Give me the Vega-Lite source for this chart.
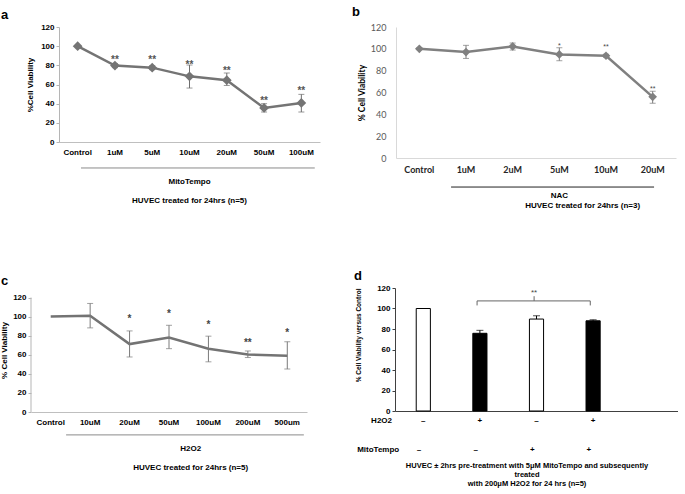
{
  "$schema": "https://vega.github.io/schema/vega-lite/v6.json",
  "background": "white",
  "padding": {"left": 0, "top": 5, "right": 0, "bottom": 0},
  "autosize": {"type": "pad"},
  "config": {
    "view": {"stroke": null},
    "font": "Liberation Sans",
    "axis": {"grid": false, "labelOverlap": false, "labelFont": "Liberation Sans", "labelFontWeight": "bold", "labelFontSize": 8, "labelColor": "#000000", "titleFont": "Liberation Sans", "titleFontWeight": "bold", "titleFontSize": 8, "titleColor": "#000000", "domainColor": "#b5b5b5", "tickColor": "#b5b5b5"},
    "title": {"anchor": "start", "frame": "group", "fontSize": 13, "fontWeight": "bold", "font": "Liberation Sans", "color": "#000000", "baseline": "alphabetic"}
  },
  "bounds": "full",
  "spacing": 59,
  "vconcat": [
    {
      "bounds": "flush",
      "spacing": 76,
      "hconcat": [
        {
          "width": 289, "height": 115,
          "title": {"text": "a", "dx": -30, "offset": 1},
          "data": {"values": [
            {"dose": "Control", "mean": 100, "lo": null, "hi": null, "star": "", "starY": null},
            {"dose": "1uM", "mean": 79.7, "lo": 77.6, "hi": 81.7, "star": "**", "starY": 88.7},
            {"dose": "5uM", "mean": 77.6, "lo": 75.5, "hi": 79.7, "star": "**", "starY": 88.7},
            {"dose": "10uM", "mean": 68.5, "lo": 56.3, "hi": 80.3, "star": "**", "starY": 83.5},
            {"dose": "20uM", "mean": 64.5, "lo": 59, "hi": 72, "star": "**", "starY": 77.6},
            {"dose": "50uM", "mean": 35.5, "lo": 31.3, "hi": 40, "star": "**", "starY": 45.9},
            {"dose": "100uM", "mean": 40.7, "lo": 31.3, "hi": 49.7, "star": "**", "starY": 56.7}
          ]},
          "layer": [
            {"mark": {"type": "line", "color": "#747474", "strokeWidth": 2.5},
             "encoding": {
               "x": {"field": "dose", "type": "nominal", "title": null, "scale": {"type": "band", "domain": ["Control", "1uM", "5uM", "10uM", "20uM", "50uM", "100uM"], "range": [28, 289], "paddingInner": 0, "paddingOuter": 0}, "axis": {"ticks": false, "labelAngle": 0, "labelPadding": 6, "domainColor": "#bfbfbf"}},
               "y": {"field": "mean", "type": "quantitative", "title": "%Cell Viability", "scale": {"domain": [0, 120]}, "axis": {"values": [0, 20, 40, 60, 80, 100, 120], "tickCount": 10, "offset": -28, "tickSize": 3, "labelPadding": 2, "titlePadding": 6}}
             }},
            {"mark": {"type": "rule", "color": "#6e6e6e", "strokeWidth": 1},
             "encoding": {"x": {"field": "dose", "type": "nominal", "title": null}, "y": {"field": "lo", "type": "quantitative", "title": "%Cell Viability"}, "y2": {"field": "hi"}}},
            {"mark": {"type": "tick", "color": "#6e6e6e", "size": 6, "thickness": 1},
             "encoding": {"x": {"field": "dose", "type": "nominal", "title": null}, "y": {"field": "lo", "type": "quantitative", "title": "%Cell Viability"}}},
            {"mark": {"type": "tick", "color": "#6e6e6e", "size": 6, "thickness": 1},
             "encoding": {"x": {"field": "dose", "type": "nominal", "title": null}, "y": {"field": "hi", "type": "quantitative", "title": "%Cell Viability"}}},
            {"mark": {"type": "point", "shape": "diamond", "filled": true, "size": 95, "color": "#747474", "opacity": 1},
             "encoding": {"x": {"field": "dose", "type": "nominal", "title": null}, "y": {"field": "mean", "type": "quantitative", "title": "%Cell Viability"}}},
            {"mark": {"type": "text", "fontSize": 10, "fontWeight": "bold", "color": "#555555", "baseline": "middle", "dy": 3},
             "encoding": {"x": {"field": "dose", "type": "nominal", "title": null}, "y": {"field": "starY", "type": "quantitative", "title": "%Cell Viability"}, "text": {"field": "star"}}},
            {"data": {"values": [{"dose": "Control", "dose2": "100uM", "level": -27.1}]},
             "mark": {"type": "rule", "color": "#8a8a8a", "strokeWidth": 1},
             "encoding": {"x": {"field": "dose", "type": "nominal", "title": null, "bandPosition": 0.59}, "x2": {"field": "dose2", "bandPosition": 0.86}, "y": {"field": "level", "type": "quantitative", "title": "%Cell Viability"}}},
            {"data": {"values": [{"dose": "10uM", "level": -41.7, "label": "MitoTempo"}, {"dose": "10uM", "level": -61.6, "label": "HUVEC treated for 24hrs (n=5)"}]},
             "mark": {"type": "text", "fontSize": 8, "fontWeight": "bold", "baseline": "middle", "color": "#000000"},
             "encoding": {"x": {"field": "dose", "type": "nominal", "title": null}, "y": {"field": "level", "type": "quantitative", "title": "%Cell Viability"}, "text": {"field": "label"}}}
          ]
        },
        {
          "width": 280, "height": 131,
          "title": {"text": "b", "dx": -44, "offset": 4.5},
          "data": {"values": [
            {"dose": "Control", "mean": 100, "lo": 99.3, "hi": 100.7, "star": "", "starY": null},
            {"dose": "1uM", "mean": 97, "lo": 91.2, "hi": 103.2, "star": "", "starY": null},
            {"dose": "2uM", "mean": 102.2, "lo": 98.9, "hi": 105.3, "star": "", "starY": null},
            {"dose": "5uM", "mean": 94.9, "lo": 89.1, "hi": 101, "star": "*", "starY": 104.7},
            {"dose": "10uM", "mean": 93.7, "lo": 92.4, "hi": 95, "star": "**", "starY": 103.2},
            {"dose": "20uM", "mean": 56, "lo": 50.2, "hi": 61.2, "star": "**", "starY": 64.9}
          ]},
          "layer": [
            {"mark": {"type": "line", "color": "#808080", "strokeWidth": 2.5},
             "encoding": {
               "x": {"field": "dose", "type": "nominal", "title": null, "scale": {"type": "band", "domain": ["Control", "1uM", "2uM", "5uM", "10uM", "20uM"], "paddingInner": 0, "paddingOuter": 0}, "axis": {"ticks": false, "labelAngle": 0, "labelPadding": 7, "labelFont": "Lato", "labelFontSize": 9, "labelColor": "#262626", "domainColor": "#d9d9d9"}},
               "y": {"field": "mean", "type": "quantitative", "title": "% Cell Viability", "scale": {"domain": [0, 120]}, "axis": {"values": [0, 20, 40, 60, 80, 100, 120], "tickCount": 10, "ticks": false, "labelPadding": 10, "labelFont": "Lato", "labelFontWeight": "normal", "labelFontSize": 9, "labelColor": "#595959", "domainColor": "#d9d9d9", "titleFont": "Lato", "titleFontSize": 8.5, "titlePadding": 4}}
             }},
            {"mark": {"type": "rule", "color": "#7a7a7a", "strokeWidth": 1},
             "encoding": {"x": {"field": "dose", "type": "nominal", "title": null}, "y": {"field": "lo", "type": "quantitative", "title": "% Cell Viability"}, "y2": {"field": "hi"}}},
            {"mark": {"type": "tick", "color": "#7a7a7a", "size": 6, "thickness": 1},
             "encoding": {"x": {"field": "dose", "type": "nominal", "title": null}, "y": {"field": "lo", "type": "quantitative", "title": "% Cell Viability"}}},
            {"mark": {"type": "tick", "color": "#7a7a7a", "size": 6, "thickness": 1},
             "encoding": {"x": {"field": "dose", "type": "nominal", "title": null}, "y": {"field": "hi", "type": "quantitative", "title": "% Cell Viability"}}},
            {"mark": {"type": "point", "shape": "diamond", "filled": true, "size": 75, "color": "#808080", "opacity": 1},
             "encoding": {"x": {"field": "dose", "type": "nominal", "title": null}, "y": {"field": "mean", "type": "quantitative", "title": "% Cell Viability"}}},
            {"mark": {"type": "text", "fontSize": 7, "color": "#444444", "baseline": "middle", "dy": 2},
             "encoding": {"x": {"field": "dose", "type": "nominal", "title": null}, "y": {"field": "starY", "type": "quantitative", "title": "% Cell Viability"}, "text": {"field": "star"}}},
            {"data": {"values": [{"dose": "1uM", "dose2": "20uM", "level": -26.6}]},
             "mark": {"type": "rule", "color": "#222222", "strokeWidth": 1},
             "encoding": {"x": {"field": "dose", "type": "nominal", "title": null, "bandPosition": 0.18}, "x2": {"field": "dose2", "bandPosition": 0.53}, "y": {"field": "level", "type": "quantitative", "title": "% Cell Viability"}}},
            {"data": {"values": [{"dose": "5uM", "level": -34.8, "label": "NAC"}]},
             "mark": {"type": "text", "fontSize": 8, "fontWeight": "bold", "baseline": "middle", "color": "#000000"},
             "encoding": {"x": {"field": "dose", "type": "nominal", "title": null}, "y": {"field": "level", "type": "quantitative", "title": "% Cell Viability"}, "text": {"field": "label"}}},
            {"data": {"values": [{"dose": "10uM", "level": -44, "label": "HUVEC treated for 24hrs (n=3)"}]},
             "mark": {"type": "text", "fontSize": 8, "fontWeight": "bold", "baseline": "middle", "color": "#000000"},
             "encoding": {"x": {"field": "dose", "type": "nominal", "title": null, "bandPosition": 0}, "y": {"field": "level", "type": "quantitative", "title": "% Cell Viability"}, "text": {"field": "label"}}}
          ]
        }
      ]
    },
    {
      "bounds": "flush",
      "spacing": 88,
      "hconcat": [
        {
          "width": 276, "height": 124,
          "title": {"text": "c", "dx": -30, "offset": 0.5},
          "data": {"values": [
            {"dose": "Control", "mean": 100, "lo": null, "hi": null, "star": "", "starY": null},
            {"dose": "10uM", "mean": 101, "lo": 88.2, "hi": 113.8, "star": "", "starY": null},
            {"dose": "20uM", "mean": 71.2, "lo": 57.7, "hi": 85, "star": "*", "starY": 100.3},
            {"dose": "50uM", "mean": 78.1, "lo": 66.4, "hi": 90.9, "star": "*", "starY": 105.5},
            {"dose": "100uM", "mean": 66.4, "lo": 52.6, "hi": 79.5, "star": "*", "starY": 94},
            {"dose": "200uM", "mean": 60.2, "lo": 57.1, "hi": 64, "star": "**", "starY": 76},
            {"dose": "500um", "mean": 59.1, "lo": 45, "hi": 73.7, "star": "*", "starY": 86}
          ]},
          "layer": [
            {"mark": {"type": "line", "color": "#737373", "strokeWidth": 2.5},
             "encoding": {
               "x": {"field": "dose", "type": "nominal", "title": null, "scale": {"type": "band", "domain": ["Control", "10uM", "20uM", "50uM", "100uM", "200uM", "500um"], "paddingInner": 0, "paddingOuter": 0}, "axis": {"ticks": false, "labelAngle": 0, "labelPadding": 6, "domainColor": "#bfbfbf"}},
               "y": {"field": "mean", "type": "quantitative", "title": "% Cell Viability", "scale": {"domain": [0, 129.4]}, "axis": {"values": [0, 20, 40, 60, 80, 100, 120], "tickCount": 10, "domain": false, "tickSize": 3, "labelPadding": 2, "titlePadding": 4}}
             }},
            {"data": {"values": [{"dose": "Control", "lo": 0, "hi": 120}]},
             "mark": {"type": "rule", "color": "#b5b5b5", "strokeWidth": 1},
             "encoding": {"x": {"field": "dose", "type": "nominal", "title": null, "bandPosition": 0}, "y": {"field": "lo", "type": "quantitative", "title": "% Cell Viability"}, "y2": {"field": "hi"}}},
            {"mark": {"type": "rule", "color": "#7a7a7a", "strokeWidth": 1},
             "encoding": {"x": {"field": "dose", "type": "nominal", "title": null}, "y": {"field": "lo", "type": "quantitative", "title": "% Cell Viability"}, "y2": {"field": "hi"}}},
            {"mark": {"type": "tick", "color": "#7a7a7a", "size": 6, "thickness": 1},
             "encoding": {"x": {"field": "dose", "type": "nominal", "title": null}, "y": {"field": "lo", "type": "quantitative", "title": "% Cell Viability"}}},
            {"mark": {"type": "tick", "color": "#7a7a7a", "size": 6, "thickness": 1},
             "encoding": {"x": {"field": "dose", "type": "nominal", "title": null}, "y": {"field": "hi", "type": "quantitative", "title": "% Cell Viability"}}},
            {"mark": {"type": "text", "fontSize": 10, "fontWeight": "bold", "color": "#444444", "baseline": "middle", "dy": 3},
             "encoding": {"x": {"field": "dose", "type": "nominal", "title": null}, "y": {"field": "starY", "type": "quantitative", "title": "% Cell Viability"}, "text": {"field": "star"}}},
            {"data": {"values": [{"dose": "Control", "dose2": "500um", "level": -24}]},
             "mark": {"type": "rule", "color": "#8a8a8a", "strokeWidth": 1},
             "encoding": {"x": {"field": "dose", "type": "nominal", "title": null, "bandPosition": 0.89}, "x2": {"field": "dose2", "bandPosition": 0.92}, "y": {"field": "level", "type": "quantitative", "title": "% Cell Viability"}}},
            {"data": {"values": [{"dose": "100uM", "level": -38.6, "label": "H2O2"}, {"dose": "100uM", "level": -59.2, "label": "HUVEC treated for 24hrs (n=5)"}]},
             "mark": {"type": "text", "fontSize": 8, "fontWeight": "bold", "baseline": "middle", "color": "#000000"},
             "encoding": {"x": {"field": "dose", "type": "nominal", "title": null, "bandPosition": 0.05}, "y": {"field": "level", "type": "quantitative", "title": "% Cell Viability"}, "text": {"field": "label"}}}
          ]
        },
        {
          "width": 283, "height": 123,
          "title": {"text": "d", "dx": -41, "offset": 1},
          "data": {"values": [
            {"grp": "A", "h2o2": "–", "mito": "–", "v": 100, "hi": null},
            {"grp": "B", "h2o2": "+", "mito": "–", "v": 75.8, "hi": 78.7},
            {"grp": "C", "h2o2": "–", "mito": "+", "v": 89.7, "hi": 92.9},
            {"grp": "D", "h2o2": "+", "mito": "+", "v": 88, "hi": 89}
          ]},
          "layer": [
            {"mark": {"type": "bar", "stroke": "#000000", "strokeWidth": 1},
             "encoding": {
               "x": {"field": "grp", "type": "nominal", "title": null, "scale": {"type": "band", "domain": ["A", "B", "C", "D", "E"], "paddingInner": 0.75, "paddingOuter": 0.375}, "axis": {"ticks": false, "labels": false, "domainColor": "#404040"}},
               "y": {"field": "v", "type": "quantitative", "title": "% Cell Viability versus Control", "scale": {"domain": [0, 120]}, "axis": {"values": [0, 20, 40, 60, 80, 100, 120], "tickCount": 10, "tickSize": 3, "labelPadding": 2, "tickColor": "#404040", "domainColor": "#404040", "titleFontSize": 6.5, "titlePadding": 15, "titleAnchor": "end"}},
               "fill": {"field": "h2o2", "type": "nominal", "scale": {"domain": ["–", "+"], "range": ["#ffffff", "#000000"]}, "legend": null}
             }},
            {"mark": {"type": "rule", "color": "#000000", "strokeWidth": 1},
             "encoding": {"x": {"field": "grp", "type": "nominal", "title": null}, "y": {"field": "v", "type": "quantitative", "title": "% Cell Viability versus Control"}, "y2": {"field": "hi"}}},
            {"mark": {"type": "tick", "color": "#000000", "size": 7, "thickness": 1},
             "encoding": {"x": {"field": "grp", "type": "nominal", "title": null}, "y": {"field": "hi", "type": "quantitative", "title": "% Cell Viability versus Control"}}},
            {"mark": {"type": "text", "fontSize": 8, "fontWeight": "bold", "baseline": "middle", "color": "#000000"},
             "encoding": {"x": {"field": "grp", "type": "nominal", "title": null}, "y": {"datum": -9.7, "type": "quantitative"}, "text": {"field": "h2o2"}}},
            {"mark": {"type": "text", "fontSize": 8, "fontWeight": "bold", "baseline": "middle", "color": "#000000"},
             "encoding": {"x": {"field": "grp", "type": "nominal", "title": null, "bandPosition": 0.2}, "y": {"datum": -37.7, "type": "quantitative"}, "text": {"field": "mito"}}},
            {"data": {"values": [{"grp": "A", "level": -9.7, "label": "H2O2"}]},
             "mark": {"type": "text", "fontSize": 8, "fontWeight": "bold", "baseline": "middle", "align": "right", "color": "#000000"},
             "encoding": {"x": {"field": "grp", "type": "nominal", "title": null, "bandPosition": -1.71}, "y": {"field": "level", "type": "quantitative", "title": "% Cell Viability versus Control"}, "text": {"field": "label"}}},
            {"data": {"values": [{"grp": "A", "level": -37.7, "label": "MitoTempo"}]},
             "mark": {"type": "text", "fontSize": 8, "fontWeight": "bold", "baseline": "middle", "align": "right", "color": "#000000"},
             "encoding": {"x": {"field": "grp", "type": "nominal", "title": null, "bandPosition": -1.2}, "y": {"field": "level", "type": "quantitative", "title": "% Cell Viability versus Control"}, "text": {"field": "label"}}},
            {"data": {"values": [
               {"grp": "C", "level": -53.2, "label": "HUVEC ± 2hrs pre-treatment with 5μM MitoTempo  and subsequently"},
               {"grp": "C", "level": -62, "label": "treated"},
               {"grp": "C", "level": -71.7, "label": "with 200μM H2O2 for 24 hrs (n=5)"}
             ]},
             "mark": {"type": "text", "fontSize": 7.5, "fontWeight": "bold", "baseline": "middle", "color": "#000000"},
             "encoding": {"x": {"field": "grp", "type": "nominal", "title": null, "bandPosition": -0.17}, "y": {"field": "level", "type": "quantitative", "title": "% Cell Viability versus Control"}, "text": {"field": "label"}}},
            {"data": {"values": [{"grp": "B", "grp2": "D", "level": 107.4}]},
             "mark": {"type": "rule", "color": "#666666", "strokeWidth": 1},
             "encoding": {"x": {"field": "grp", "type": "nominal", "title": null, "bandPosition": 0.3}, "x2": {"field": "grp2", "bandPosition": 0.3}, "y": {"field": "level", "type": "quantitative", "title": "% Cell Viability versus Control"}}},
            {"data": {"values": [{"grp": "B", "lo": 103, "hi": 107.4}, {"grp": "D", "lo": 103, "hi": 107.4}]},
             "mark": {"type": "rule", "color": "#666666", "strokeWidth": 1},
             "encoding": {"x": {"field": "grp", "type": "nominal", "title": null, "bandPosition": 0.3}, "y": {"field": "lo", "type": "quantitative", "title": "% Cell Viability versus Control"}, "y2": {"field": "hi"}}},
            {"data": {"values": [{"grp": "C", "lo": 107.4, "hi": 112}]},
             "mark": {"type": "rule", "color": "#666666", "strokeWidth": 1},
             "encoding": {"x": {"field": "grp", "type": "nominal", "title": null, "bandPosition": 0.33}, "y": {"field": "lo", "type": "quantitative", "title": "% Cell Viability versus Control"}, "y2": {"field": "hi"}}},
            {"data": {"values": [{"grp": "C", "level": 117, "label": "**"}]},
             "mark": {"type": "text", "fontSize": 8, "color": "#444444", "baseline": "middle", "dy": 2},
             "encoding": {"x": {"field": "grp", "type": "nominal", "title": null, "bandPosition": 0.33}, "y": {"field": "level", "type": "quantitative", "title": "% Cell Viability versus Control"}, "text": {"field": "label"}}}
          ]
        }
      ]
    }
  ]
}
